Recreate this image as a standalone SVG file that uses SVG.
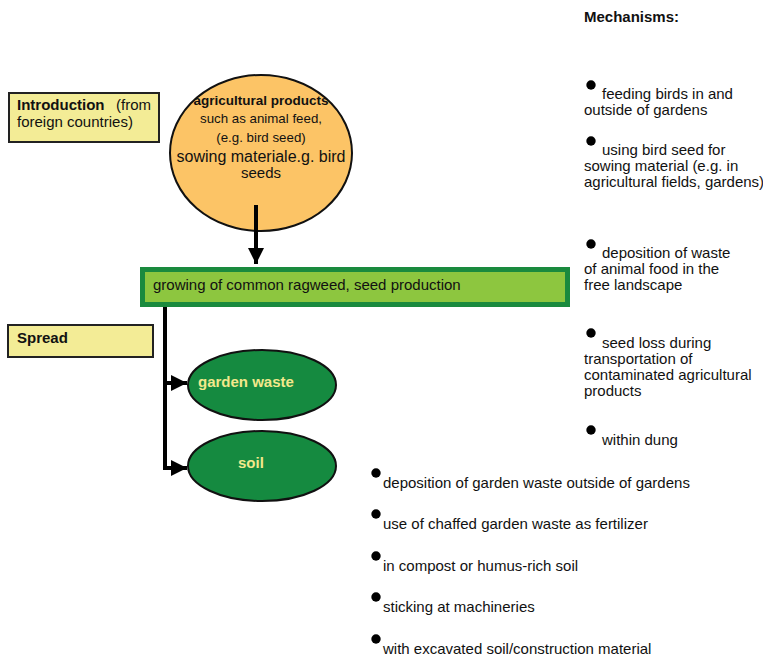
<svg xmlns="http://www.w3.org/2000/svg" width="763" height="657" viewBox="0 0 763 657">
<style>
text{font-family:"Liberation Sans",Arial,sans-serif;fill:#111}
.t15{font-size:15px}
.b{font-weight:bold}
.lbl{fill:#f3ec96;stroke:#222;stroke-width:2}
.eg{fill:#158a40;stroke:#111;stroke-width:2}
.gt{font-size:15px;font-weight:bold;fill:#f2e88c}
.dot{fill:#000}
.conn{fill:none;stroke:#000;stroke-width:4}
</style>
<defs>
<marker id="ah" viewBox="0 0 10 10" refX="10" refY="5" markerWidth="4" markerHeight="4" markerUnits="strokeWidth" orient="auto">
<path d="M0,0 L10,5 L0,10 Z" fill="#000"/>
</marker>
</defs>
<rect width="763" height="657" fill="#fff"/>

<g id="introduction">
<rect class="lbl" x="9" y="93" width="150" height="49"/>
<text class="t15" x="17" y="110"><tspan class="b">Introduction</tspan><tspan x="116">(from</tspan></text>
<text class="t15" x="17" y="127">foreign countries)</text>
</g>

<g id="agricultural-products">
<ellipse cx="261" cy="153" rx="91" ry="78" fill="#fcc466" stroke="#111" stroke-width="2"/>
<text x="261" y="105" text-anchor="middle" font-size="13.5" font-weight="bold">agricultural products</text>
<text x="261" y="123" text-anchor="middle" font-size="13.3">such as animal feed,</text>
<text x="261" y="142" text-anchor="middle" font-size="13.3">(e.g. bird seed)</text>
<text x="261" y="162" text-anchor="middle" font-size="16">sowing materiale.g. bird</text>
<text x="261" y="178" text-anchor="middle" font-size="15">seeds</text>
</g>

<g id="growing">
<rect x="142.5" y="269.5" width="425" height="35" fill="#8dc63f" stroke="#1a8a3e" stroke-width="5"/>
<text class="t15" x="153" y="290">growing of common ragweed, seed production</text>
</g>

<g id="spread">
<rect class="lbl" x="8" y="325" width="145" height="32"/>
<text class="t15 b" x="17" y="343">Spread</text>
</g>

<g id="garden-waste">
<ellipse class="eg" cx="262" cy="385" rx="74" ry="35"/>
<text class="gt" x="198" y="387">garden waste</text>
</g>

<g id="soil">
<ellipse class="eg" cx="262" cy="466" rx="74" ry="35"/>
<text class="gt" x="238" y="468">soil</text>
</g>

<g id="connectors">
<line class="conn" x1="256" y1="205" x2="256" y2="264" marker-end="url(#ah)"/>
<path class="conn" d="M165,307 V468 H187" marker-end="url(#ah)"/>
<path class="conn" d="M165,383 H187" marker-end="url(#ah)"/>
</g>

<g id="mechanisms">
<text class="t15 b" x="584" y="22">Mechanisms:</text>
<circle class="dot" cx="591" cy="85" r="4.7"/>
<text class="t15" x="602" y="99">feeding birds in and</text>
<text class="t15" x="584" y="115">outside of gardens</text>
<circle class="dot" cx="591" cy="141" r="4.7"/>
<text class="t15" x="602" y="155">using bird seed for</text>
<text class="t15" x="584" y="171">sowing material (e.g. in</text>
<text class="t15" x="584" y="187">agricultural fields, gardens)</text>
<circle class="dot" cx="591" cy="244" r="4.7"/>
<text class="t15" x="602" y="258">deposition of waste</text>
<text class="t15" x="584" y="274">of animal food in the</text>
<text class="t15" x="584" y="290">free landscape</text>
<circle class="dot" cx="591" cy="333" r="4.7"/>
<text class="t15" x="602" y="348">seed loss during</text>
<text class="t15" x="584" y="364">transportation of</text>
<text class="t15" x="584" y="380">contaminated agricultural</text>
<text class="t15" x="584" y="396">products</text>
<circle class="dot" cx="591" cy="430" r="4.7"/>
<text class="t15" x="602" y="445">within dung</text>
</g>

<g id="spread-mechanisms">
<circle class="dot" cx="376" cy="473" r="4.7"/>
<text class="t15" x="383" y="488">deposition of garden waste outside of gardens</text>
<circle class="dot" cx="376" cy="514" r="4.7"/>
<text class="t15" x="383" y="529">use of chaffed garden waste as fertilizer</text>
<circle class="dot" cx="376" cy="556" r="4.7"/>
<text class="t15" x="383" y="571">in compost or humus-rich soil</text>
<circle class="dot" cx="376" cy="597" r="4.7"/>
<text class="t15" x="383" y="612">sticking at machineries</text>
<circle class="dot" cx="376" cy="639" r="4.7"/>
<text class="t15" x="383" y="654">with excavated soil/construction material</text>
</g>
</svg>
